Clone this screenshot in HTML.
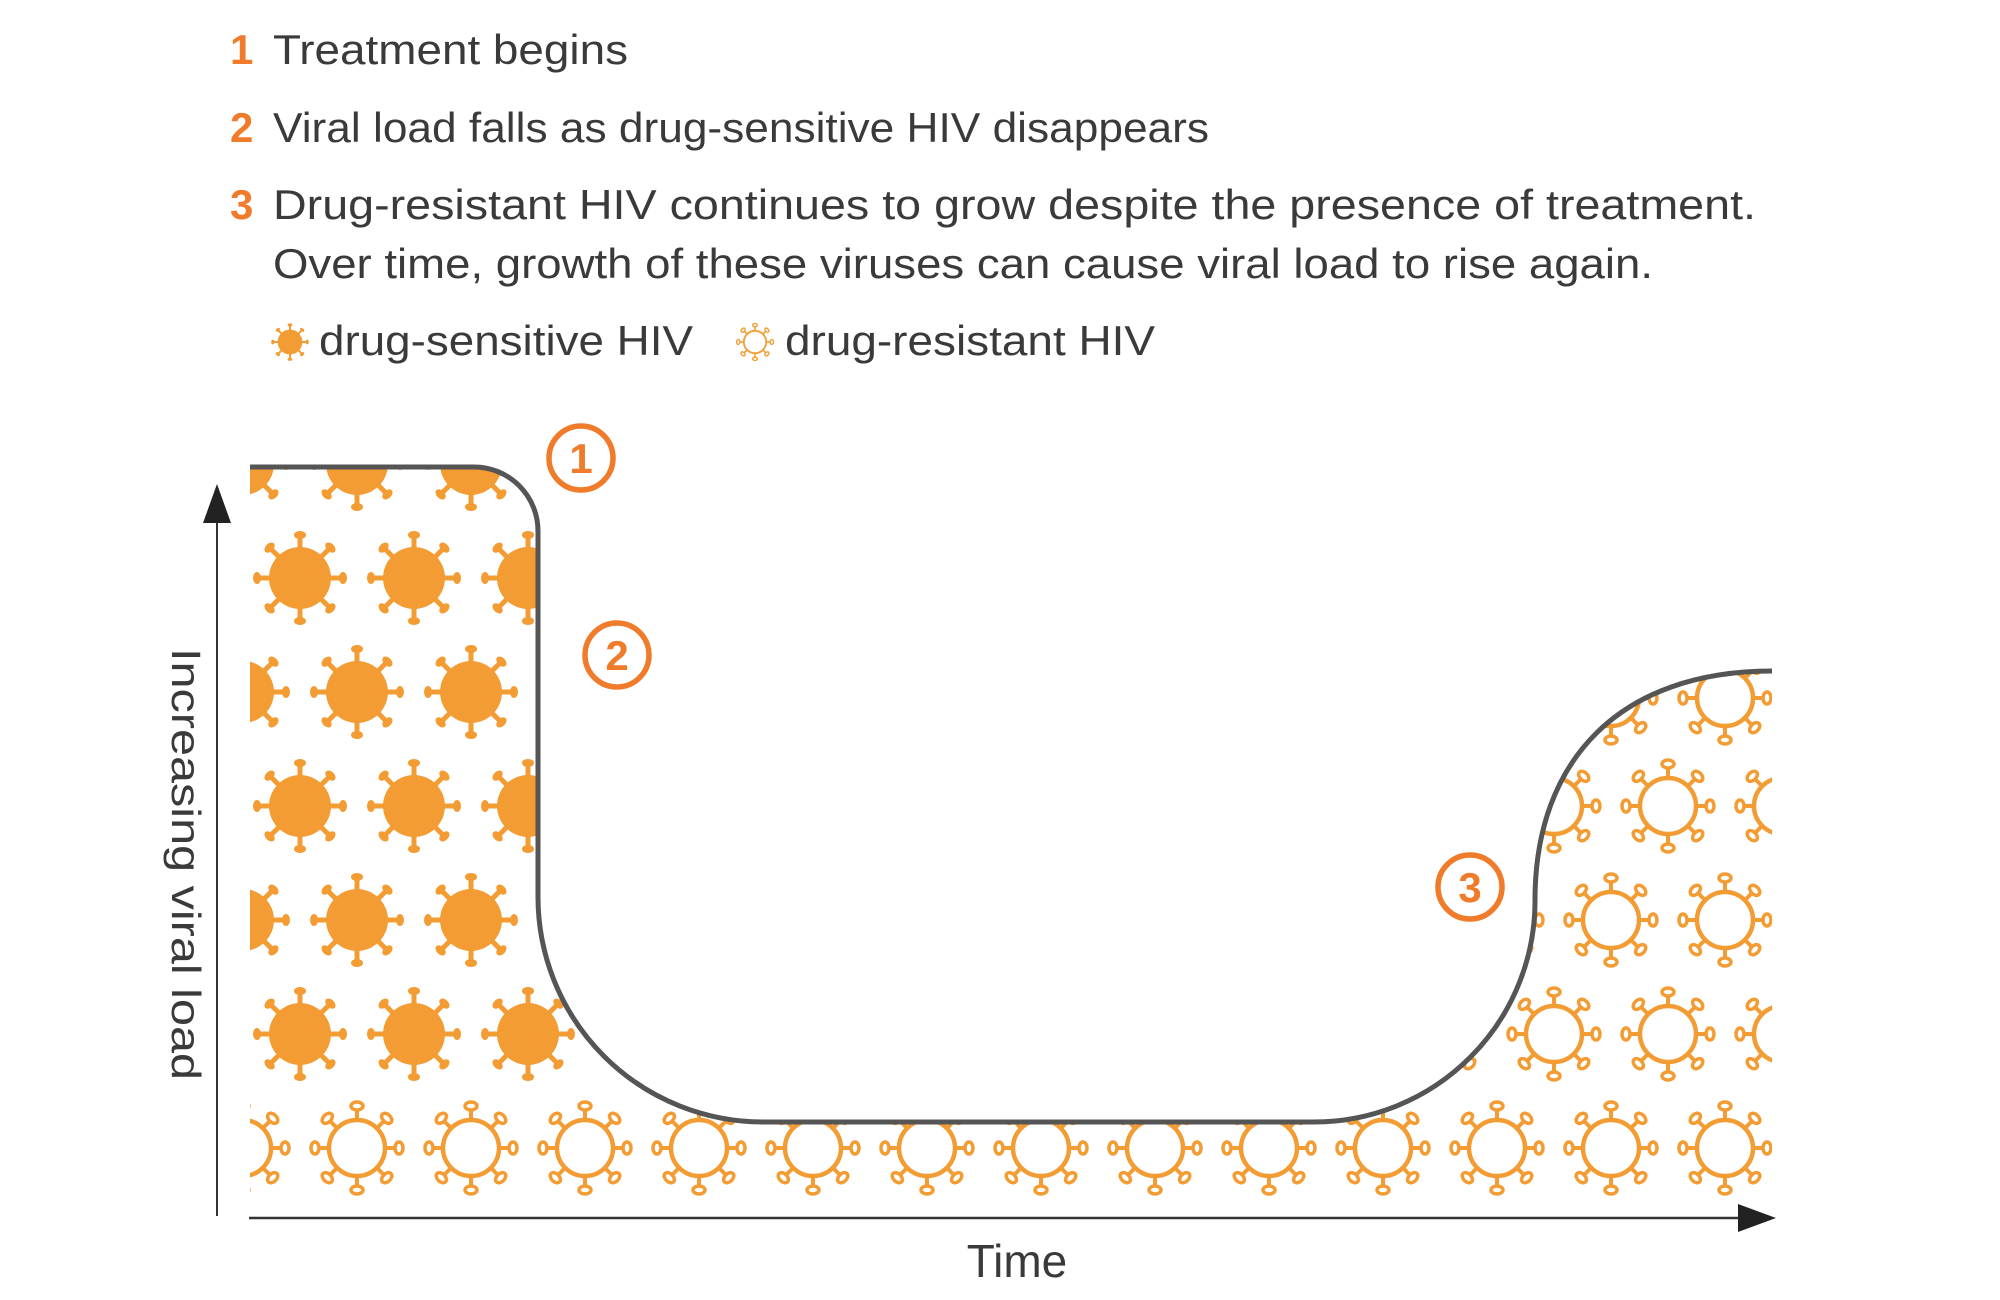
<!DOCTYPE html>
<html><head><meta charset="utf-8"><style>
html,body{margin:0;padding:0;background:#fff;}
svg{display:block;}
</style></head><body>
<svg width="2000" height="1300" viewBox="0 0 2000 1300" xmlns="http://www.w3.org/2000/svg">
<defs>
<g id="sp"><line x1="0" y1="-26" x2="0" y2="-41" stroke="#f39c33" stroke-width="5"/><ellipse cx="0" cy="-43" rx="6" ry="4" fill="#f39c33"/></g>
<g id="S">
<circle r="31" fill="#f39c33"/>
<use href="#sp"/><use href="#sp" transform="rotate(45)"/><use href="#sp" transform="rotate(90)"/><use href="#sp" transform="rotate(135)"/>
<use href="#sp" transform="rotate(180)"/><use href="#sp" transform="rotate(225)"/><use href="#sp" transform="rotate(270)"/><use href="#sp" transform="rotate(315)"/>
</g>
<g id="hp"><line x1="0" y1="-27" x2="0" y2="-38" stroke="#f39c33" stroke-width="4"/><ellipse cx="0" cy="-42" rx="6" ry="4" fill="none" stroke="#f39c33" stroke-width="3.5"/></g>
<g id="H">
<circle r="28" fill="none" stroke="#f39c33" stroke-width="4.5"/>
<use href="#hp"/><use href="#hp" transform="rotate(45)"/><use href="#hp" transform="rotate(90)"/><use href="#hp" transform="rotate(135)"/>
<use href="#hp" transform="rotate(180)"/><use href="#hp" transform="rotate(225)"/><use href="#hp" transform="rotate(270)"/><use href="#hp" transform="rotate(315)"/>
</g>
<clipPath id="cp">
<path d="M250,467 H474 A64,64 0 0 1 538,531 V897 A225,225 0 0 0 763,1122 H1314 A221,221 0 0 0 1535,900 C1535,760 1620,671 1772,671 V1205 H250 Z"/>
</clipPath>
</defs>

<!-- text -->
<g font-family="Liberation Sans, sans-serif" font-size="42" fill="#3a3a3a">
<text x="230" y="64" fill="#f07b2b" font-weight="bold">1</text>
<text x="273" y="64" textLength="355" lengthAdjust="spacingAndGlyphs">Treatment begins</text>
<text x="230" y="142" fill="#f07b2b" font-weight="bold">2</text>
<text x="273" y="142" textLength="936" lengthAdjust="spacingAndGlyphs">Viral load falls as drug-sensitive HIV disappears</text>
<text x="230" y="219" fill="#f07b2b" font-weight="bold">3</text>
<text x="273" y="219" textLength="1483" lengthAdjust="spacingAndGlyphs">Drug-resistant HIV continues to grow despite the presence of treatment.</text>
<text x="273" y="278" textLength="1380" lengthAdjust="spacingAndGlyphs">Over time, growth of these viruses can cause viral load to rise again.</text>
<text x="319" y="355" textLength="374" lengthAdjust="spacingAndGlyphs">drug-sensitive HIV</text>
<text x="785" y="355" textLength="370" lengthAdjust="spacingAndGlyphs">drug-resistant HIV</text>
<text x="1017" y="1277" font-size="46" text-anchor="middle">Time</text>
<text transform="translate(172,864) rotate(90)" font-size="41" text-anchor="middle" textLength="432" lengthAdjust="spacingAndGlyphs">Increasing viral load</text>
</g>
<use href="#S" transform="translate(290,342) scale(0.4)"/>
<use href="#H" transform="translate(755,342) scale(0.4)"/>

<!-- viruses -->
<g clip-path="url(#cp)">
<use href="#S" x="243" y="464"/><use href="#S" x="357" y="464"/><use href="#S" x="471" y="464"/>
<use href="#S" x="300" y="578"/><use href="#S" x="414" y="578"/><use href="#S" x="528" y="578"/>
<use href="#S" x="243" y="692"/><use href="#S" x="357" y="692"/><use href="#S" x="471" y="692"/>
<use href="#S" x="300" y="806"/><use href="#S" x="414" y="806"/><use href="#S" x="528" y="806"/>
<use href="#S" x="243" y="920"/><use href="#S" x="357" y="920"/><use href="#S" x="471" y="920"/><use href="#S" x="585" y="920"/>
<use href="#S" x="300" y="1034"/><use href="#S" x="414" y="1034"/><use href="#S" x="528" y="1034"/>

<use href="#H" x="1611" y="698"/><use href="#H" x="1725" y="698"/><use href="#H" x="1839" y="698"/>
<use href="#H" x="1554" y="806"/><use href="#H" x="1668" y="806"/><use href="#H" x="1782" y="806"/>
<use href="#H" x="1497" y="920"/><use href="#H" x="1611" y="920"/><use href="#H" x="1725" y="920"/>
<use href="#H" x="1326" y="1034"/><use href="#H" x="1440" y="1034"/><use href="#H" x="1554" y="1034"/><use href="#H" x="1668" y="1034"/><use href="#H" x="1782" y="1034"/>
<use href="#H" x="243" y="1148"/><use href="#H" x="357" y="1148"/><use href="#H" x="471" y="1148"/><use href="#H" x="585" y="1148"/>
<use href="#H" x="699" y="1148"/><use href="#H" x="813" y="1148"/><use href="#H" x="927" y="1148"/><use href="#H" x="1041" y="1148"/>
<use href="#H" x="1155" y="1148"/><use href="#H" x="1269" y="1148"/><use href="#H" x="1383" y="1148"/><use href="#H" x="1497" y="1148"/>
<use href="#H" x="1611" y="1148"/><use href="#H" x="1725" y="1148"/>
</g>

<!-- curve -->
<path d="M250,467 H474 A64,64 0 0 1 538,531 V897 A225,225 0 0 0 763,1122 H1314 A221,221 0 0 0 1535,900 C1535,760 1620,671 1772,671" fill="none" stroke="#555" stroke-width="5"/>

<!-- axes -->
<line x1="217" y1="1216" x2="217" y2="515" stroke="#333" stroke-width="2"/>
<polygon points="217,484 203,523 231,523" fill="#222"/>
<line x1="249" y1="1218" x2="1745" y2="1218" stroke="#333" stroke-width="2.5"/>
<polygon points="1776,1218 1738,1204 1738,1232" fill="#222"/>

<!-- circled numbers -->
<g fill="none" stroke="#f07b2b" stroke-width="5.5">
<circle cx="581" cy="458" r="32"/>
<circle cx="617" cy="655" r="32"/>
<circle cx="1470" cy="887" r="32"/>
</g>
<g font-family="Liberation Sans, sans-serif" font-size="42" font-weight="bold" fill="#f07b2b" text-anchor="middle">
<text x="581" y="473">1</text>
<text x="617" y="670">2</text>
<text x="1470" y="902">3</text>
</g>
</svg>
</body></html>
